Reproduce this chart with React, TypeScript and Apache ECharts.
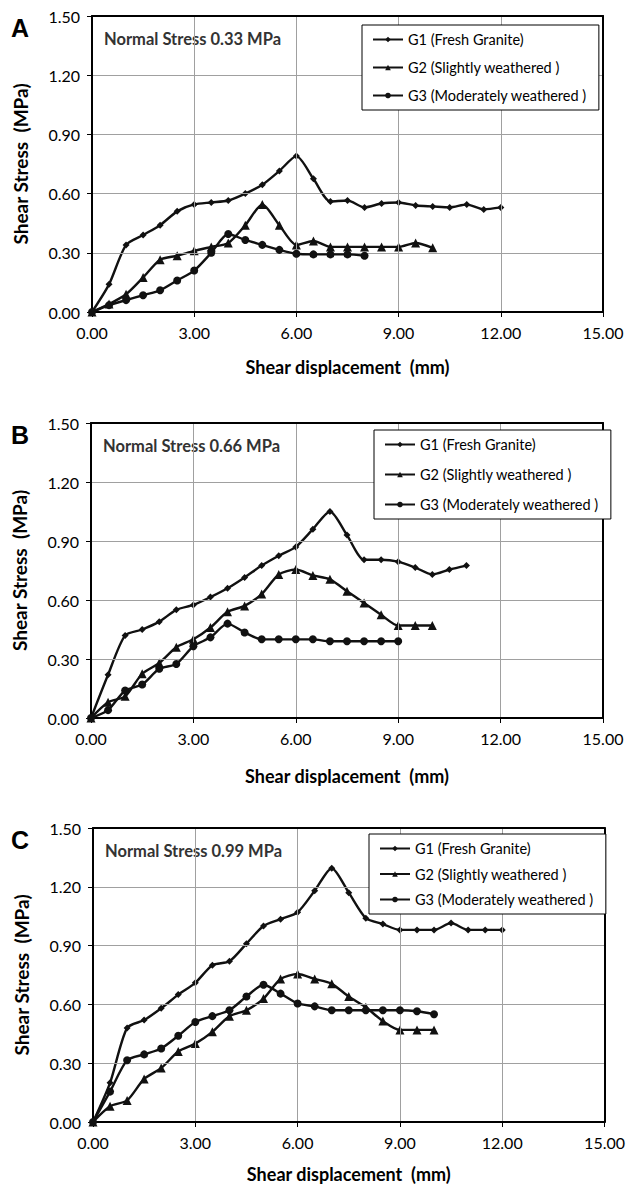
import React, { useEffect, useRef } from "react";
import * as echarts from "echarts";

// ---------- data ----------
const xTicks = [0, 3, 6, 9, 12, 15];
const yTicks = [0, 0.3, 0.6, 0.9, 1.2, 1.5];
const seriesNames = ["G1 (Fresh Granite)", "G2 (Slightly weathered )", "G3 (Moderately weathered )"];
const panelLetters = ["A", "B", "C"];
const normalStress = ["Normal Stress 0.33 MPa", "Normal Stress 0.66 MPa", "Normal Stress 0.99 MPa"];

// displacement (mm) sample points
const disp12 = [0, 0.5, 1, 1.5, 2, 2.5, 3, 3.5, 4, 4.5, 5, 5.5, 6, 6.5, 7, 7.5, 8, 8.5, 9, 9.5, 10, 10.5, 11, 11.5, 12];
const disp11 = [0, 0.5, 1, 1.5, 2, 2.5, 3, 3.5, 4, 4.5, 5, 5.5, 6, 6.5, 7, 7.5, 8, 8.5, 9, 9.5, 10, 10.5, 11];
const disp10 = [0, 0.5, 1, 1.5, 2, 2.5, 3, 3.5, 4, 4.5, 5, 5.5, 6, 6.5, 7, 7.5, 8, 8.5, 9, 9.5, 10];
const disp9 = [0, 0.5, 1, 1.5, 2, 2.5, 3, 3.5, 4, 4.5, 5, 5.5, 6, 6.5, 7, 7.5, 8, 8.5, 9];
const disp8 = [0, 0.5, 1, 1.5, 2, 2.5, 3, 3.5, 4, 4.5, 5, 5.5, 6, 6.5, 7, 7.5, 8];

// Panel A (0.33 MPa)
const a_G1 = [0, 0.14, 0.34, 0.39, 0.44, 0.51, 0.545, 0.555, 0.565, 0.6, 0.645, 0.715, 0.79, 0.675, 0.56, 0.565, 0.53, 0.55, 0.555, 0.54, 0.535, 0.53, 0.545, 0.52, 0.53];
const a_G2 = [0, 0.04, 0.09, 0.175, 0.265, 0.285, 0.31, 0.33, 0.35, 0.44, 0.545, 0.44, 0.34, 0.36, 0.33, 0.33, 0.33, 0.33, 0.33, 0.35, 0.325];
const a_G3 = [0, 0.035, 0.06, 0.085, 0.11, 0.16, 0.21, 0.3, 0.395, 0.365, 0.34, 0.315, 0.295, 0.292, 0.292, 0.292, 0.285];

// Panel B (0.66 MPa)
const b_G1 = [0, 0.22, 0.42, 0.45, 0.49, 0.55, 0.575, 0.615, 0.66, 0.715, 0.775, 0.825, 0.87, 0.96, 1.05, 0.93, 0.805, 0.805, 0.795, 0.765, 0.73, 0.755, 0.775];
const b_G2 = [0, 0.08, 0.11, 0.225, 0.28, 0.36, 0.4, 0.46, 0.54, 0.57, 0.63, 0.73, 0.755, 0.725, 0.705, 0.645, 0.585, 0.525, 0.47, 0.47, 0.47];
const b_G3 = [0, 0.04, 0.14, 0.17, 0.25, 0.275, 0.365, 0.41, 0.48, 0.435, 0.4, 0.4, 0.4, 0.4, 0.39, 0.39, 0.39, 0.39, 0.39];

// Panel C (0.99 MPa)
const c_G1 = [0, 0.2, 0.48, 0.52, 0.58, 0.65, 0.71, 0.8, 0.82, 0.91, 1.0, 1.035, 1.07, 1.18, 1.295, 1.17, 1.04, 1.01, 0.98, 0.98, 0.98, 1.015, 0.98, 0.98, 0.98];
const c_G2 = [0, 0.08, 0.11, 0.22, 0.275, 0.36, 0.4, 0.46, 0.54, 0.57, 0.63, 0.73, 0.755, 0.73, 0.705, 0.64, 0.585, 0.515, 0.47, 0.47, 0.47];
const c_G3 = [0, 0.155, 0.315, 0.345, 0.375, 0.44, 0.51, 0.54, 0.57, 0.64, 0.7, 0.655, 0.605, 0.59, 0.57, 0.57, 0.57, 0.57, 0.57, 0.565, 0.55];

const panels = [
  { x: [disp12, disp10, disp8], y: [a_G1, a_G2, a_G3] },
  { x: [disp11, disp10, disp9], y: [b_G1, b_G2, b_G3] },
  { x: [disp12, disp10, disp10], y: [c_G1, c_G2, c_G3] },
];

// ---------- layout ----------
const grids = [
  { left: 92, top: 16, width: 511, height: 296 },
  { left: 91, top: 423, width: 512, height: 295 },
  { left: 93, top: 828, width: 512, height: 294 },
];
const xNameGaps = [46, 49, 43];
const legendPos = [
  { left: 362, top: 25, gap: 13 },
  { left: 374, top: 430, gap: 15 },
  { left: 369, top: 834, gap: 10.5 },
];
const symbols = ["diamond", "triangle", "circle"];
const symbolSizes = [7, 9, 8];
const FONT = "Lato, 'Open Sans', sans-serif";

export default function App() {
  const ref = useRef<HTMLDivElement>(null);
  useEffect(() => {
    document.body.style.margin = "0";
    const chart = echarts.init(ref.current!, null, { renderer: "svg" });
    const series: any[] = [];
    panels.forEach((p, pi) => {
      p.y.forEach((vals, si) => {
        series.push({
          name: seriesNames[si],
          type: "line",
          xAxisIndex: pi,
          yAxisIndex: pi,
          data: vals.map((v, i) => [p.x[si][i], v]),
          smooth: 0.25,
          symbol: symbols[si],
          symbolSize: symbolSizes[si],
          showSymbol: true,
          lineStyle: { color: "#111", width: 2.4 },
          itemStyle: { color: "#111", borderWidth: 0 },
          z: 3 + si,
        });
      });
    });
    const labelStyle = {
      fontFamily: FONT,
      fontSize: 16,
      color: "#000",
      margin: 12,
      formatter: (v: number) => v.toFixed(2),
    };
    const xMain = grids.map((_, i) => ({
      type: "value",
      gridIndex: i,
      position: "bottom",
      min: xTicks[0],
      max: xTicks[xTicks.length - 1],
      interval: 3,
      name: "Shear displacement  (mm)",
      nameLocation: "middle",
      nameGap: xNameGaps[i],
      nameTextStyle: { fontFamily: FONT, fontWeight: "bold", fontSize: 18, color: "#000" },
      axisLine: { show: true, onZero: false, lineStyle: { color: "#000", width: 2 } },
      axisTick: { show: true, length: 5, lineStyle: { color: "#000", width: 1 } },
      axisLabel: labelStyle,
      splitLine: { show: true, lineStyle: { color: "#a0a0a0", width: 1 } },
      z: 5,
    }));
    const xTop = grids.map((_, i) => ({
      type: "value",
      gridIndex: i,
      position: "top",
      min: xTicks[0],
      max: xTicks[xTicks.length - 1],
      interval: 3,
      axisLine: { show: true, onZero: false, lineStyle: { color: "#000", width: 2 } },
      axisTick: { show: false },
      axisLabel: { show: false },
      splitLine: { show: false },
      z: 5,
    }));
    const yMain = grids.map((_, i) => ({
      type: "value",
      gridIndex: i,
      position: "left",
      min: yTicks[0],
      max: yTicks[yTicks.length - 1],
      interval: 0.3,
      name: "Shear Stress  (MPa)",
      nameLocation: "middle",
      nameGap: 62,
      nameTextStyle: { fontFamily: FONT, fontWeight: "bold", fontSize: 19, color: "#000" },
      axisLine: { show: true, onZero: false, lineStyle: { color: "#000", width: 2 } },
      axisTick: { show: true, length: 5, lineStyle: { color: "#000", width: 1 } },
      axisLabel: labelStyle,
      splitLine: { show: true, lineStyle: { color: "#a0a0a0", width: 1 } },
      z: 5,
    }));
    const yRight = grids.map((_, i) => ({
      type: "value",
      gridIndex: i,
      position: "right",
      min: yTicks[0],
      max: yTicks[yTicks.length - 1],
      interval: 0.3,
      axisLine: { show: true, onZero: false, lineStyle: { color: "#000", width: 2 } },
      axisTick: { show: false },
      axisLabel: { show: false },
      splitLine: { show: false },
      z: 5,
    }));
    chart.setOption({
      animation: false,
      backgroundColor: "#fff",
      textStyle: { fontFamily: FONT },
      grid: grids.map((g) => ({ ...g, show: false })),
      xAxis: [...xMain, ...xTop],
      yAxis: [...yMain, ...yRight],
      legend: legendPos.map((l) => ({
        left: l.left,
        top: l.top,
        orient: "vertical",
        data: seriesNames,
        itemWidth: 30,
        itemHeight: 7,
        itemGap: l.gap,
        padding: [7, 12, 7, 10],
        borderColor: "#000",
        borderWidth: 1,
        backgroundColor: "#fff",
        selectedMode: false,
        textStyle: { fontFamily: FONT, fontSize: 14.5, color: "#000" },
        z: 10,
      })),
      graphic: [
        ...panelLetters.map((t, i) => ({
          type: "text",
          left: 11,
          top: grids[i].top - 1,
          style: { text: t, fontFamily: "'Liberation Sans', Arial, sans-serif", fontWeight: "bold", fontSize: 25, fill: "#000" },
        })),
        ...normalStress.map((t, i) => ({
          type: "text",
          left: grids[i].left + 12,
          top: grids[i].top + 14,
          style: { text: t, fontFamily: FONT, fontWeight: "bold", fontSize: 16.5, fill: "#333" },
        })),
      ],
      series,
    });
    return () => chart.dispose();
  }, []);
  return (
    <div
      ref={ref}
      style={{ position: "absolute", left: 0, top: 0, width: 628, height: 1190 }}
    />
  );
}
